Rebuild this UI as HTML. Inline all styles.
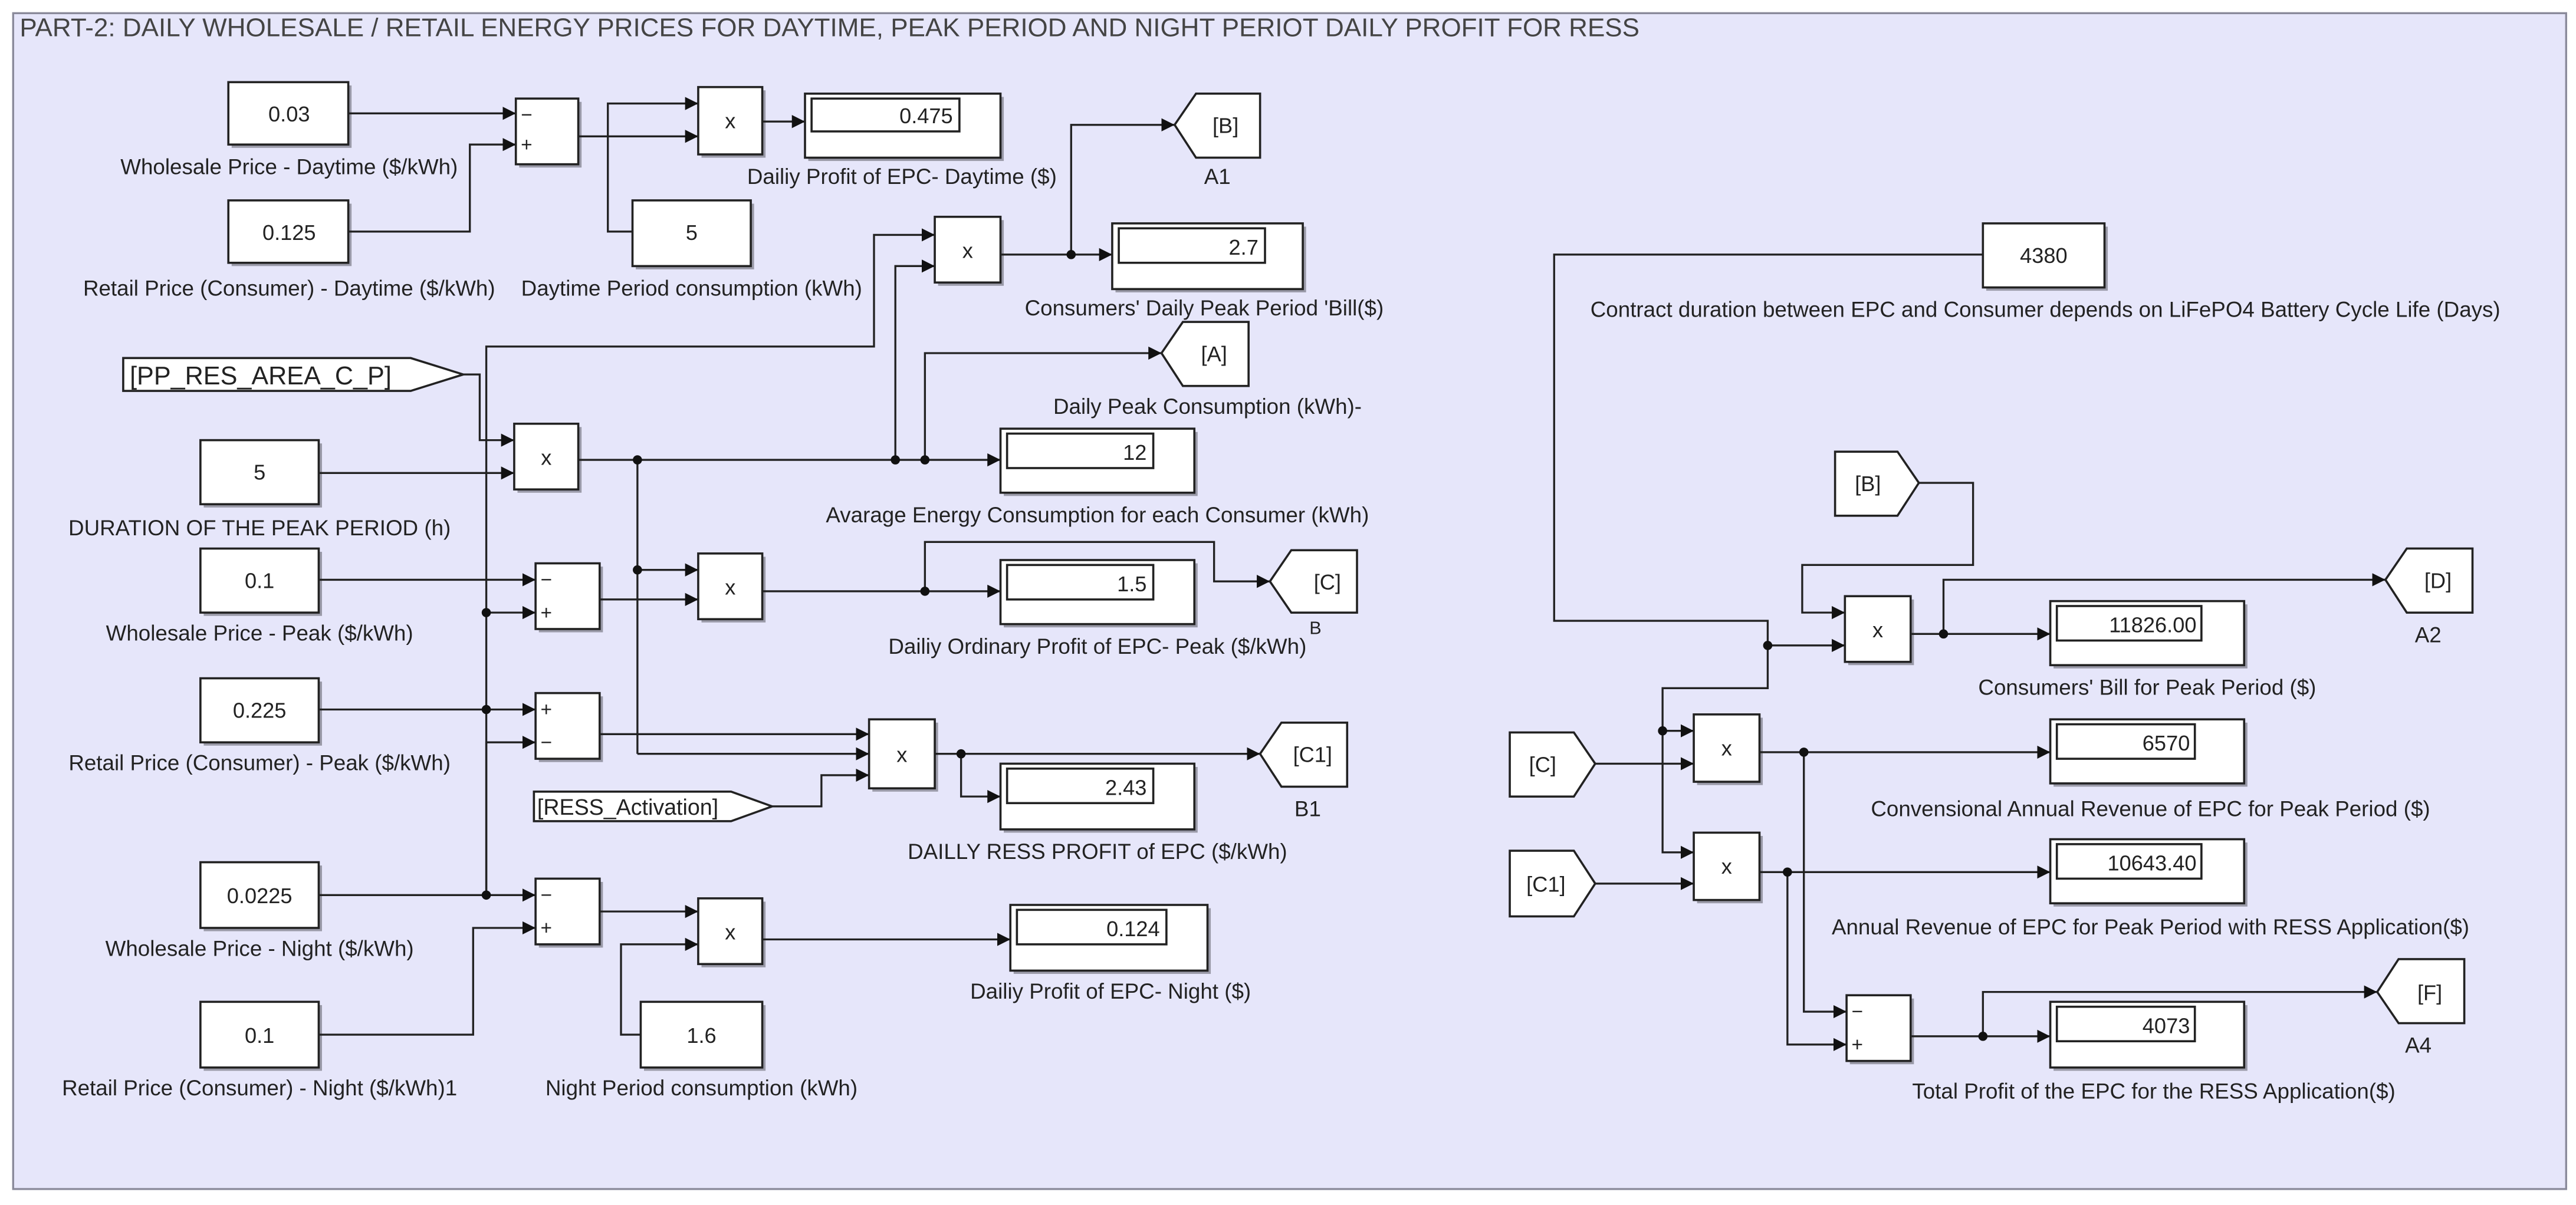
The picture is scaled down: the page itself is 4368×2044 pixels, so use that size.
<!DOCTYPE html>
<html><head><meta charset="utf-8"><style>
html,body{margin:0;padding:0;background:#fff;}
svg{display:block;}
text{font-family:"Liberation Sans",Arial,sans-serif;fill:#222;}
.l{font-size:13.2px;text-anchor:middle;}
.v{font-size:13px;text-anchor:middle;}
.d{font-size:13px;text-anchor:end;}
.g{font-size:12px;}
.b{fill:#fff;stroke:#222;stroke-width:1.3;}
.s{fill:#9a9aa8;}
.w{fill:none;stroke:#222;stroke-width:1.2;}
.a{fill:none;stroke:#222;stroke-width:1.2;marker-end:url(#ar);}
.dot{fill:#111;}
</style></head><body>
<svg width="4368" height="2044" viewBox="0 0 1568 733.7" xmlns="http://www.w3.org/2000/svg">
<defs>
<marker id="ar" markerUnits="userSpaceOnUse" markerWidth="9" markerHeight="9" refX="8" refY="4" orient="auto">
<path d="M0,0 L8,4 L0,8 z" fill="#111"/>
</marker>
</defs>
<rect x="0" y="0" width="1568" height="733.7" fill="#fff"/>
<rect x="8" y="8" width="1554" height="716" fill="#e6e6fa" stroke="#8a8a9a" stroke-width="1.2"/>
<text x="12" y="22" style="font-size:15.8px;fill:#444">PART-2: DAILY WHOLESALE / RETAIL ENERGY PRICES FOR DAYTIME, PEAK PERIOD AND NIGHT PERIOT DAILY PROFIT FOR RESS</text>

<g class="s">
<rect x="141" y="52" width="73" height="38"/><rect x="141" y="124" width="73" height="38"/>
<rect x="316" y="62" width="38" height="40"/><rect x="427" y="55" width="39" height="41"/>
<rect x="387" y="124" width="72" height="40"/><rect x="492" y="59" width="119" height="39"/>
<rect x="571" y="134" width="40" height="40"/><rect x="679" y="138" width="116" height="40"/>
<rect x="611" y="263" width="118" height="39"/><rect x="315" y="260" width="39" height="40"/>
<rect x="124" y="270" width="72" height="39"/><rect x="124" y="336" width="72" height="39"/>
<rect x="124" y="415" width="72" height="39"/><rect x="124" y="527" width="72" height="40"/>
<rect x="124" y="612" width="72" height="40"/><rect x="328" y="345" width="39" height="40"/>
<rect x="328" y="424" width="39" height="40"/><rect x="328" y="537" width="39" height="40"/>
<rect x="427" y="339" width="39" height="40"/><rect x="611" y="343" width="118" height="39"/>
<rect x="531" y="440" width="40" height="42"/><rect x="611" y="467" width="118" height="40"/>
<rect x="427" y="549" width="39" height="40"/><rect x="392" y="612" width="74" height="40"/>
<rect x="617" y="553" width="120" height="40"/>
<rect x="1209" y="138" width="74" height="39"/><rect x="1125" y="365" width="40" height="40"/>
<rect x="1250" y="368" width="118" height="39"/><rect x="1033" y="437" width="40" height="41"/>
<rect x="1250" y="440" width="118" height="39"/><rect x="1033" y="509" width="40" height="41"/>
<rect x="1250" y="513" width="118" height="39"/><rect x="1126" y="608" width="39" height="40"/>
<rect x="1250" y="612" width="118" height="40"/>
</g>

<g>
<path class="a" d="M212,69 H314"/>
<path class="a" d="M212,141 H286 V88 H314"/>
<path class="a" d="M352,83 H425"/>
<path class="a" d="M385,141 H370 V63 H425"/>
<path class="a" d="M464,74 H490"/>
<path class="a" d="M609,155 H677"/>
<path class="a" d="M652,155 V76 H715"/>
<path class="a" d="M296,545 V211 H532 V143 H569"/>
<path class="a" d="M545,280 V162 H569"/>
<path class="a" d="M352,280 H609"/>
<path class="a" d="M563,280 V215 H707"/>
<path class="a" d="M282,228 H292 V268 H313"/>
<path class="a" d="M194,288 H313"/>
<path class="a" d="M194,353 H326"/>
<path class="a" d="M296,373 H326"/>
<path class="a" d="M194,432 H326"/>
<path class="a" d="M296,545 V452 H326"/>
<path class="a" d="M365,365 H425"/>
<path class="w" d="M388,280 V459"/>
<path class="a" d="M388,347 H425"/>
<path class="a" d="M464,360 H609"/>
<path class="a" d="M563,360 V330 H739 V354 H773"/>
<path class="a" d="M365,447 H529"/>
<path class="a" d="M388,459 H529"/>
<path class="a" d="M470,491 H500 V472 H529"/>
<path class="a" d="M569,459 H767"/>
<path class="a" d="M585,459 V485 H609"/>
<path class="a" d="M194,545 H326"/>
<path class="a" d="M194,630 H288 V565 H326"/>
<path class="a" d="M365,555 H425"/>
<path class="a" d="M390,630 H378 V575 H425"/>
<path class="a" d="M464,572 H615"/>
<path class="w" d="M1207,155 H946 V378 H1076 V393"/>
<path class="a" d="M1076,393 H1123"/>
<path class="a" d="M1168,294 H1201 V344 H1097 V373 H1123"/>
<path class="a" d="M1163,386 H1248"/>
<path class="a" d="M1183,386 V353 H1452"/>
<path class="a" d="M1076,393 V419 H1012 V519 H1031"/>
<path class="a" d="M1012,445 H1031"/>
<path class="a" d="M971,465 H1031"/>
<path class="a" d="M971,538 H1031"/>
<path class="a" d="M1071,458 H1248"/>
<path class="a" d="M1098,458 V616 H1124"/>
<path class="a" d="M1071,531 H1248"/>
<path class="a" d="M1088,531 V636 H1124"/>
<path class="a" d="M1163,631 H1248"/>
<path class="a" d="M1207,631 V604 H1447"/>
</g>
<g class="dot">
<circle cx="652" cy="155" r="2.8"/><circle cx="388" cy="280" r="2.8"/><circle cx="545" cy="280" r="2.8"/>
<circle cx="563" cy="280" r="2.8"/><circle cx="296" cy="373" r="2.8"/><circle cx="296" cy="432" r="2.8"/>
<circle cx="296" cy="545" r="2.8"/><circle cx="388" cy="347" r="2.8"/><circle cx="563" cy="360" r="2.8"/>
<circle cx="585" cy="459" r="2.8"/>
<circle cx="1076" cy="393" r="2.8"/><circle cx="1183" cy="386" r="2.8"/><circle cx="1012" cy="445" r="2.8"/>
<circle cx="1098" cy="458" r="2.8"/><circle cx="1088" cy="531" r="2.8"/><circle cx="1207" cy="631" r="2.8"/>
</g>

<g>
<rect class="b" x="139" y="50" width="73" height="38"/><text class="v" x="176" y="74">0.03</text>
<text class="l" x="176" y="106">Wholesale Price - Daytime ($/kWh)</text>
<rect class="b" x="139" y="122" width="73" height="38"/><text class="v" x="176" y="146">0.125</text>
<text class="l" x="176" y="180">Retail Price (Consumer) - Daytime ($/kWh)</text>
<rect class="b" x="314" y="60" width="38" height="40"/>
<text class="g" x="317" y="74">−</text><text class="g" x="317" y="92">+</text>
<rect class="b" x="425" y="53" width="39" height="41"/><text class="v" x="444.5" y="78">x</text>
<rect class="b" x="385" y="122" width="72" height="40"/><text class="v" x="421" y="146">5</text>
<text class="l" x="421" y="180">Daytime Period consumption (kWh)</text>
<rect class="b" x="490" y="57" width="119" height="39"/><rect class="b" x="494" y="60" width="90" height="20"/>
<text class="d" x="580" y="75">0.475</text>
<text class="l" x="549" y="112">Dailiy Profit of EPC- Daytime ($)</text>
<polygon class="b" points="715,76 728,57 767,57 767,96 728,96"/><text class="v" x="746" y="81">[B]</text>
<text class="l" x="741" y="112">A1</text>
<rect class="b" x="569" y="132" width="40" height="40"/><text class="v" x="589" y="157">x</text>
<rect class="b" x="677" y="136" width="116" height="40"/><rect class="b" x="681" y="139" width="89" height="21"/>
<text class="d" x="766" y="155">2.7</text>
<text class="l" x="733" y="192">Consumers' Daily Peak Period 'Bill($)</text>
<polygon class="b" points="707,215 720,196 760,196 760,235 720,235"/><text class="v" x="739" y="220">[A]</text>
<text class="l" x="735" y="252">Daily Peak Consumption (kWh)-</text>
<rect class="b" x="609" y="261" width="118" height="39"/><rect class="b" x="613" y="264" width="89" height="21"/>
<text class="d" x="698" y="280">12</text>
<text class="l" x="668" y="318">Avarage Energy Consumption for each Consumer (kWh)</text>
<polygon class="b" points="75,218 250,218 282,228 250,238 75,238"/>
<text x="79" y="234" style="font-size:15.5px">[PP_RES_AREA_C_P]</text>
<rect class="b" x="313" y="258" width="39" height="40"/><text class="v" x="332.5" y="283">x</text>
<rect class="b" x="122" y="268" width="72" height="39"/><text class="v" x="158" y="292">5</text>
<text class="l" x="158" y="326">DURATION OF THE PEAK PERIOD (h)</text>
<rect class="b" x="122" y="334" width="72" height="39"/><text class="v" x="158" y="358">0.1</text>
<text class="l" x="158" y="390">Wholesale Price - Peak ($/kWh)</text>
<rect class="b" x="122" y="413" width="72" height="39"/><text class="v" x="158" y="437">0.225</text>
<text class="l" x="158" y="469">Retail Price (Consumer) - Peak ($/kWh)</text>
<rect class="b" x="326" y="343" width="39" height="40"/>
<text class="g" x="329" y="357">−</text><text class="g" x="329" y="377">+</text>
<rect class="b" x="326" y="422" width="39" height="40"/>
<text class="g" x="329" y="436">+</text><text class="g" x="329" y="456">−</text>
<rect class="b" x="425" y="337" width="39" height="40"/><text class="v" x="444.5" y="362">x</text>
<rect class="b" x="609" y="341" width="118" height="39"/><rect class="b" x="613" y="344" width="89" height="21"/>
<text class="d" x="698" y="360">1.5</text>
<text class="l" x="668" y="398">Dailiy Ordinary Profit of EPC- Peak ($/kWh)</text>
<text x="797" y="386" style="font-size:11px">B</text>
<polygon class="b" points="773,354 786,335 826,335 826,373 786,373"/><text class="v" x="808" y="359">[C]</text>
<polygon class="b" points="325,482 445,482 470,491 445,500 325,500"/>
<text x="327" y="496" style="font-size:13.5px">[RESS_Activation]</text>
<rect class="b" x="529" y="438" width="40" height="42"/><text class="v" x="549" y="464">x</text>
<polygon class="b" points="767,459 780,440 820,440 820,479 780,479"/><text class="v" x="799" y="464">[C1]</text>
<text class="l" x="796" y="497">B1</text>
<rect class="b" x="609" y="465" width="118" height="40"/><rect class="b" x="613" y="468" width="89" height="21"/>
<text class="d" x="698" y="484">2.43</text>
<text class="l" x="668" y="523">DAILLY RESS PROFIT of EPC  ($/kWh)</text>
<rect class="b" x="122" y="525" width="72" height="40"/><text class="v" x="158" y="550">0.0225</text>
<text class="l" x="158" y="582">Wholesale Price - Night ($/kWh)</text>
<rect class="b" x="122" y="610" width="72" height="40"/><text class="v" x="158" y="635">0.1</text>
<text class="l" x="158" y="667">Retail Price (Consumer) - Night ($/kWh)1</text>
<rect class="b" x="326" y="535" width="39" height="40"/>
<text class="g" x="329" y="549">−</text><text class="g" x="329" y="569">+</text>
<rect class="b" x="425" y="547" width="39" height="40"/><text class="v" x="444.5" y="572">x</text>
<rect class="b" x="390" y="610" width="74" height="40"/><text class="v" x="427" y="635">1.6</text>
<text class="l" x="427" y="667">Night Period consumption (kWh)</text>
<rect class="b" x="615" y="551" width="120" height="40"/><rect class="b" x="619" y="554" width="91" height="21"/>
<text class="d" x="706" y="570">0.124</text>
<text class="l" x="676" y="608">Dailiy Profit of EPC- Night ($)</text>

<rect class="b" x="1207" y="136" width="74" height="39"/><text class="v" x="1244" y="160">4380</text>
<text class="l" x="1245" y="193">Contract duration between EPC and Consumer depends on LiFePO4 Battery Cycle Life (Days)</text>
<polygon class="b" points="1117,275 1155,275 1168,294 1155,314 1117,314"/><text class="v" x="1137" y="299">[B]</text>
<rect class="b" x="1123" y="363" width="40" height="40"/><text class="v" x="1143" y="388">x</text>
<rect class="b" x="1248" y="366" width="118" height="39"/><rect class="b" x="1252" y="369" width="88" height="21"/>
<text class="d" x="1337" y="385">11826.00</text>
<text class="l" x="1307" y="423">Consumers' Bill for Peak Period ($)</text>
<polygon class="b" points="1452,353 1465,334 1505,334 1505,373 1465,373"/><text class="v" x="1484" y="358">[D]</text>
<text class="l" x="1478" y="391">A2</text>
<polygon class="b" points="919,446 958,446 971,465 958,485 919,485"/><text class="v" x="939" y="470">[C]</text>
<rect class="b" x="1031" y="435" width="40" height="41"/><text class="v" x="1051" y="460">x</text>
<rect class="b" x="1248" y="438" width="118" height="39"/><rect class="b" x="1252" y="441" width="84" height="21"/>
<text class="d" x="1333" y="457">6570</text>
<text class="l" x="1309" y="497">Convensional Annual Revenue of EPC for  Peak Period ($)</text>
<polygon class="b" points="919,518 958,518 971,538 958,558 919,558"/><text class="v" x="941" y="543">[C1]</text>
<rect class="b" x="1031" y="507" width="40" height="41"/><text class="v" x="1051" y="532">x</text>
<rect class="b" x="1248" y="511" width="118" height="39"/><rect class="b" x="1252" y="514" width="88" height="21"/>
<text class="d" x="1337" y="530">10643.40</text>
<text class="l" x="1309" y="569">Annual Revenue of EPC for  Peak Period with RESS Application($)</text>
<rect class="b" x="1124" y="606" width="39" height="40"/>
<text class="g" x="1127" y="620">−</text><text class="g" x="1127" y="640">+</text>
<rect class="b" x="1248" y="610" width="118" height="40"/><rect class="b" x="1252" y="613" width="84" height="21"/>
<text class="d" x="1333" y="629">4073</text>
<text class="l" x="1311" y="669">Total Profit of the EPC for the RESS Application($)</text>
<polygon class="b" points="1447,604 1460,584 1500,584 1500,623 1460,623"/><text class="v" x="1479" y="609">[F]</text>
<text class="l" x="1472" y="641">A4</text>
</g>
</svg>
</body></html>
